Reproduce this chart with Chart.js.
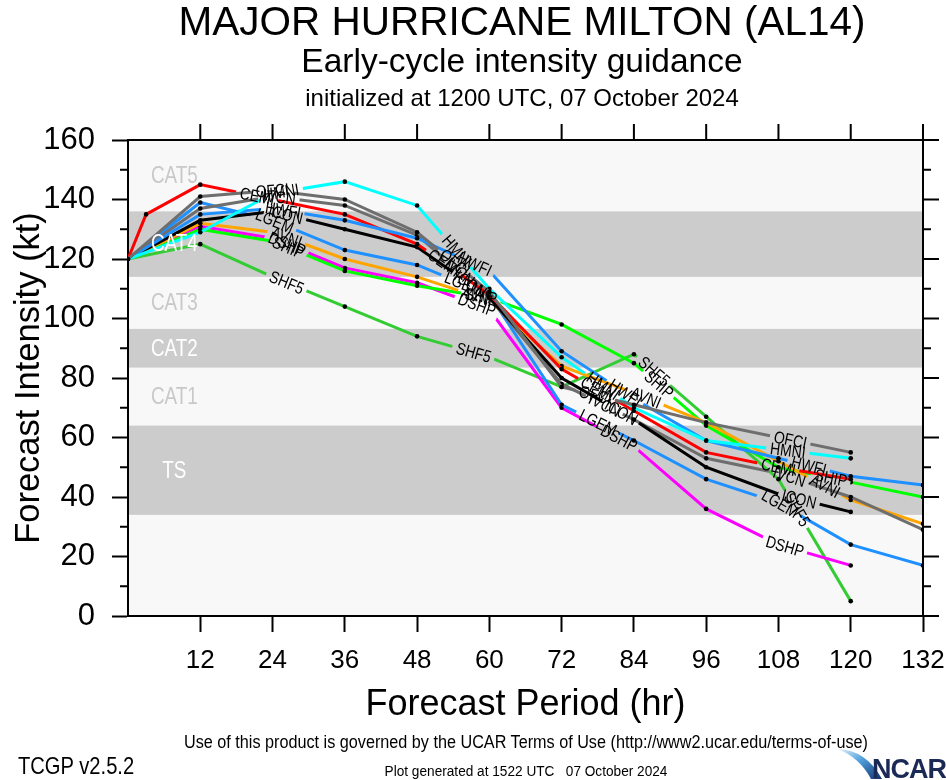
<!DOCTYPE html>
<html>
<head>
<meta charset="utf-8">
<script src="https://cdn.jsdelivr.net/npm/chart.js@4.4.1/dist/chart.umd.min.js"></script>
<style>
  body { margin: 0; background: #fff; }
  #wrap { position: relative; width: 946px; height: 780px; overflow: hidden;
          font-family: 'Liberation Sans', Arial, Helvetica, sans-serif; color: #000; }
  #chart { position: absolute; left: 0; top: 0; }
  .t { position: absolute; left: 98px; width: 848px; text-align: center; line-height: 1; white-space: nowrap; }
  #title { top: 1px; font-size: 40.5px; }
  #sub1 { top: 44px; font-size: 33.5px; }
  #sub2 { top: 86px; font-size: 24px; }
  #terms { left: 26px; width: 1000px; top: 733px; font-size: 18px; transform: scaleX(0.9); }
  #gen { left: 26px; width: 1000px; top: 763px; font-size: 15.5px; transform: scaleX(0.88); }
  #ver { position: absolute; left: 18px; top: 754px; font-size: 24px; line-height: 1;
         transform: scaleX(0.84); transform-origin: left center; white-space: nowrap; }
  #logo { position: absolute; left: 836px; top: 746px; }
</style>
</head>
<body>
<div id="wrap">
  <canvas id="chart" width="946" height="780"></canvas>
  <div class="t" id="title">MAJOR HURRICANE MILTON (AL14)</div>
  <div class="t" id="sub1">Early-cycle intensity guidance</div>
  <div class="t" id="sub2">initialized at 1200 UTC, 07 October 2024</div>
  <div class="t" id="terms">Use of this product is governed by the UCAR Terms of Use (http://www2.ucar.edu/terms-of-use)</div>
  <div class="t" id="gen">Plot generated at 1522 UTC &nbsp; 07 October 2024</div>
  <div id="ver">TCGP v2.5.2</div>
  <svg id="logo" width="110" height="34" viewBox="0 0 110 34">
    <defs>
      <linearGradient id="sw" x1="0" y1="0" x2="1" y2="1">
        <stop offset="0" stop-color="#e3f1fb"/>
        <stop offset="0.45" stop-color="#4f9fdc"/>
        <stop offset="1" stop-color="#10306f"/>
      </linearGradient>
    </defs>
    <path d="M2 3 Q30 4 46 33 L35 33 Q24 12 2 3 Z" fill="url(#sw)"/>
    <text x="110" y="32" text-anchor="end" font-family="'Liberation Sans', Arial, sans-serif"
          font-weight="bold" font-size="27" fill="#1b2a55" letter-spacing="-1">NCAR</text>
  </svg>
</div>
<script>
// forecast hours (CEMI also has a 3 h point)
const hours = [0, 12, 24, 36, 48, 60, 72, 84, 96, 108, 120, 132];
const cemiHours = [0, 3, 12, 24, 36, 48, 60, 72, 84, 96, 108, 120];

// model intensities (kt)
const ofci = [120, 141, 143, 140, 129, 109, 77, 71, 65, 60, 55];
const ivcn = [120, 137, 141, 138, 128, 107, 78, 66, 53, 48, 40, 29];
const hmni = [120, 129, 142, 146, 138, 110, 87, 70, 59, 56, 53];
const hwfi = [120, 135, 137, 133, 127, 116, 89, 73, 59, 53, 47, 44];
const cemi = [120, 135, 145, 140, 135, 125, 108, 83, 69, 55, 50, 46];
const icon = [120, 133, 136, 130, 124, 107, 80, 66, 50, 41, 35];
const lgem = [120, 139, 133, 123, 118, 108, 71, 59, 46, 38, 24, 17];
const avni = [120, 132, 129, 120, 114, 106, 84, 75, 65, 52, 39, 31];
const dshp = [120, 131, 127, 117, 112, 103, 70, 57, 36, 24, 17];
const ship = [120, 130, 126, 116, 111, 107, 98, 85, 64, 50, 45, 40];
const shf5 = [120, 125, 114, 104, 94, 87, 77, 88, 67, 46, 5];

// Saffir-Simpson bands
const catNames = ['TS', 'CAT1', 'CAT2', 'CAT3', 'CAT4', 'CAT5'];
const catLow = [34, 64, 83.5, 96.5, 114, 136];
const catHigh = [64, 83.5, 96.5, 114, 136, 160];
const catShaded = [true, false, true, false, true, false];

const SQUEEZE = 0.82;   // no narrow face installed, so squeeze the canvas text
const LABEL_FONT = "17px 'Liberation Sans', Arial, sans-serif";

function series(label, xs, ys, color) {
    return {
        label: label,
        data: ys.map((v, i) => ({ x: xs[i], y: v })),
        borderColor: color,
        borderWidth: 3,
        pointRadius: 2.3,
        pointBackgroundColor: '#000',
        pointBorderWidth: 0,
        tension: 0,
        fill: false
    };
}

// find label spots along a polyline, every so many pixels
function placeLabels(pts, w) {
    const out = [];
    const segLen = [];
    let total = 0;
    for (let i = 1; i < pts.length; i++) {
        const d = Math.hypot(pts[i].x - pts[i - 1].x, pts[i].y - pts[i - 1].y);
        segLen.push(d);
        total += d;
    }
    for (let s = 168; s + w / 2 < total - 4; s += 200) {
        let acc = 0;
        for (let i = 0; i < segLen.length; i++) {
            if (acc + segLen[i] >= s) {
                const f = (s - acc) / segLen[i];
                const a = pts[i], b = pts[i + 1];
                out.push({
                    x: a.x + (b.x - a.x) * f,
                    y: a.y + (b.y - a.y) * f,
                    ang: Math.atan2(b.y - a.y, b.x - a.x),
                    w: w
                });
                break;
            }
            acc += segLen[i];
        }
    }
    return out;
}

function squeezedText(ctx, text, x, y, ang) {
    ctx.save();
    ctx.translate(x, y);
    ctx.rotate(ang);
    ctx.scale(SQUEEZE, 1);
    ctx.fillText(text, 0, 0);
    ctx.restore();
}

const bandsPlugin = {
    id: 'bands',
    beforeDraw(chart) {
        const { ctx, chartArea: ca, scales: { y } } = chart;
        ctx.save();
        ctx.fillStyle = '#f8f8f8';
        ctx.fillRect(ca.left, ca.top, ca.right - ca.left, ca.bottom - ca.top);
        ctx.fillStyle = '#cccccc';
        catNames.forEach((name, i) => {
            if (!catShaded[i]) return;
            const top = y.getPixelForValue(catHigh[i]);
            const bot = y.getPixelForValue(catLow[i]);
            ctx.fillRect(ca.left, top, ca.right - ca.left, bot - top);
        });
        ctx.restore();
    },
    // category names sit on top of the lines
    afterDatasetsDraw(chart) {
        const { ctx, scales: { x, y } } = chart;
        ctx.save();
        ctx.font = "23px 'Liberation Sans', Arial, sans-serif";
        ctx.textAlign = 'center';
        ctx.textBaseline = 'middle';
        catNames.forEach((name, i) => {
            const mid = (y.getPixelForValue(catHigh[i]) + y.getPixelForValue(catLow[i])) / 2;
            ctx.fillStyle = catShaded[i] ? '#ffffff' : '#c8c8c8';
            squeezedText(ctx, name, x.getPixelForValue(7.7), mid + 1, 0);
        });
        ctx.restore();
    }
};

const lineLabels = {
    id: 'lineLabels',
    beforeDatasetsDraw(chart) {
        const ctx = chart.ctx;
        ctx.save();
        ctx.font = LABEL_FONT;
        chart.$labels = chart.data.datasets.map((ds, i) => {
            const pts = chart.getDatasetMeta(i).data.map(p => ({ x: p.x, y: p.y }));
            return placeLabels(pts, ctx.measureText(ds.label).width * SQUEEZE);
        });
        ctx.restore();
    },
    beforeDatasetDraw(chart, args) {
        const ctx = chart.ctx;
        ctx.save();
        ctx.beginPath();
        ctx.rect(0, 0, chart.width, chart.height);
        (chart.$labels[args.index] || []).forEach(l => {
            const c = Math.cos(l.ang), s = Math.sin(l.ang);
            const hw = l.w / 2 + 4, hh = 8;
            const corners = [[-hw, -hh], [hw, -hh], [hw, hh], [-hw, hh]];
            corners.forEach((p, k) => {
                const px = l.x + p[0] * c - p[1] * s;
                const py = l.y + p[0] * s + p[1] * c;
                if (k === 0) ctx.moveTo(px, py); else ctx.lineTo(px, py);
            });
            ctx.closePath();
        });
        ctx.clip('evenodd');
    },
    afterDatasetDraw(chart) {
        chart.ctx.restore();
    },
    afterDatasetsDraw(chart) {
        const ctx = chart.ctx;
        ctx.save();
        ctx.font = LABEL_FONT;
        ctx.fillStyle = '#000';
        ctx.textAlign = 'center';
        ctx.textBaseline = 'middle';
        chart.data.datasets.forEach((ds, i) => {
            (chart.$labels[i] || []).forEach(l => squeezedText(ctx, ds.label, l.x, l.y + 1, l.ang));
        });
        ctx.restore();
    }
};

// top/right frame with mirrored ticks, and the minor ticks
const framePlugin = {
    id: 'frame',
    afterDraw(chart) {
        const { ctx, chartArea: ca, scales: { x, y } } = chart;
        ctx.save();
        ctx.strokeStyle = '#000';
        ctx.lineWidth = 2;
        ctx.beginPath();
        ctx.moveTo(ca.left, ca.top);
        ctx.lineTo(ca.right, ca.top);
        ctx.lineTo(ca.right, ca.bottom);
        for (let h = 12; h <= 132; h += 12) {
            const px = x.getPixelForValue(h);
            ctx.moveTo(px, ca.top);
            ctx.lineTo(px, ca.top - 16);
        }
        for (let v = 0; v <= 160; v += 10) {
            const py = y.getPixelForValue(v);
            const len = v % 20 === 0 ? 16 : 8;
            ctx.moveTo(ca.right, py);
            ctx.lineTo(ca.right + len, py);
            if (v % 20 !== 0) {
                ctx.moveTo(ca.left, py);
                ctx.lineTo(ca.left - 8, py);
            }
        }
        ctx.stroke();
        ctx.restore();
    }
};

Chart.defaults.font.family = "'Liberation Sans', Arial, sans-serif";

new Chart(document.getElementById('chart'), {
    type: 'line',
    data: {
        datasets: [
            series('OFCI', hours, ofci, '#6e6e6e'),
            series('HMNI', hours, hmni, '#00ffff'),
            series('HWFI', hours, hwfi, '#1e90ff'),
            series('CEMI', cemiHours, cemi, '#ff0000'),
            series('ICON', hours, icon, '#000000'),
            series('IVCN', hours, ivcn, '#6e6e6e'),
            series('AVNI', hours, avni, '#ffa500'),
            series('LGEM', hours, lgem, '#1e90ff'),
            series('SHIP', hours, ship, '#00ff00'),
            series('DSHP', hours, dshp, '#ff00ff'),
            series('SHF5', hours, shf5, '#33cc33')
        ]
    },
    options: {
        responsive: false,
        animation: false,
        layout: { padding: { left: 0, right: 23, top: 140, bottom: 0 } },
        plugins: { legend: { display: false }, tooltip: { enabled: false } },
        scales: {
            x: {
                type: 'linear',
                min: 0,
                max: 132,
                ticks: {
                    stepSize: 12,
                    autoSkip: false,
                    maxRotation: 0,
                    padding: 13,
                    color: '#000',
                    font: { size: 26 },
                    callback: v => (v === 0 ? '' : v)
                },
                grid: {
                    drawOnChartArea: false,
                    drawTicks: true,
                    tickLength: 16,
                    tickWidth: 2,
                    tickColor: c => (c.tick && c.tick.value === 0 ? 'rgba(0,0,0,0)' : '#000')
                },
                border: { display: true, color: '#000', width: 2 },
                title: {
                    display: true,
                    text: 'Forecast Period (hr)',
                    color: '#000',
                    font: { size: 36 },
                    padding: { top: 0, bottom: 53 }
                },
                afterFit: s => {
                    s.height = 164;
                    // the right margin is fixed by the layout padding
                    s.paddingLeft = 0;
                    s.paddingRight = 0;
                }
            },
            y: {
                min: 0,
                max: 160,
                ticks: {
                    stepSize: 20,
                    padding: 17,
                    color: '#000',
                    font: { size: 31 }
                },
                grid: {
                    drawOnChartArea: false,
                    drawTicks: true,
                    tickLength: 16,
                    tickWidth: 2,
                    tickColor: '#000'
                },
                border: { display: true, color: '#000', width: 2 },
                title: {
                    display: true,
                    text: 'Forecast Intensity (kt)',
                    color: '#000',
                    font: { size: 34.5 },
                    padding: { top: 9, bottom: 0 }
                },
                afterFit: s => {
                    s.width = 128;
                    s.paddingTop = 0;
                    s.paddingBottom = 0;
                }
            }
        }
    },
    plugins: [bandsPlugin, lineLabels, framePlugin]
});
</script>
</body>
</html>
